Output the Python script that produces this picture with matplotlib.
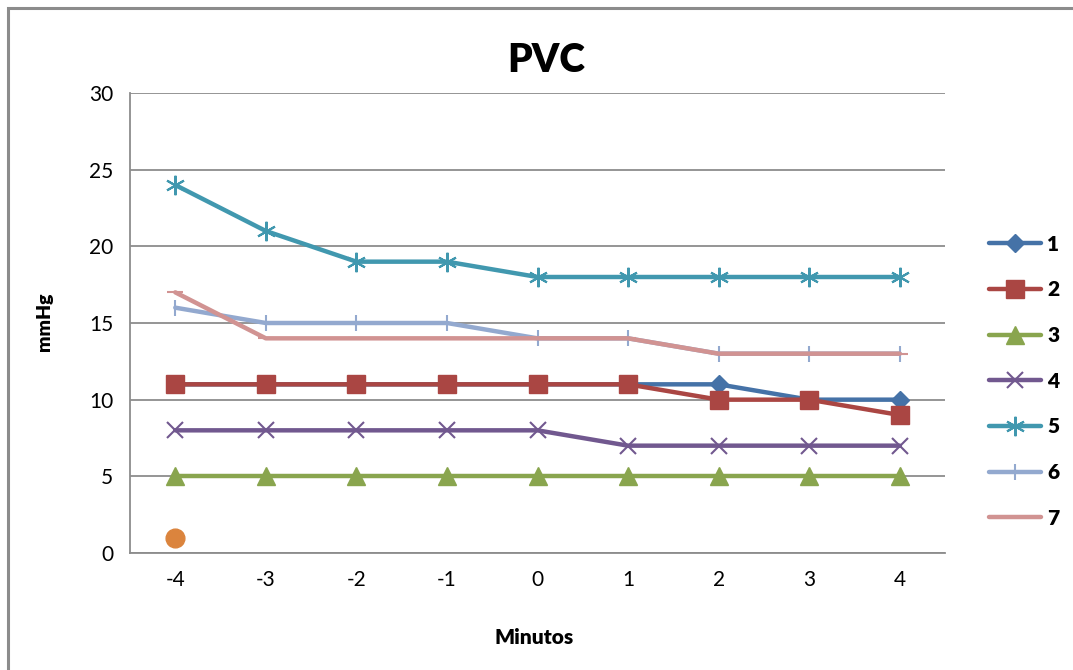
import matplotlib
matplotlib.use("Agg")
import matplotlib.pyplot as plt
from matplotlib.patches import Rectangle

minutes = [-4, -3, -2, -1, 0, 1, 2, 3, 4]
s1 = [11, 11, 11, 11, 11, 11, 11, 10, 10]
s2 = [11, 11, 11, 11, 11, 11, 10, 10, 9]
s3 = [5, 5, 5, 5, 5, 5, 5, 5, 5]
s4 = [8, 8, 8, 8, 8, 7, 7, 7, 7]
s5 = [24, 21, 19, 19, 18, 18, 18, 18, 18]
s6 = [16, 15, 15, 15, 14, 14, 13, 13, 13]
s7 = [17, 14, 14, 14, 14, 14, 13, 13, 13]
extra_x = [-4]
extra_y = [1]

series = [("1", s1, "#4572A7", "D", 9.5, 1),
          ("2", s2, "#AA4643", "s", 13, 1),
          ("3", s3, "#89A54E", "^", 13, 1),
          ("4", s4, "#71588F", "x", 11, 1.5),
          ("5", s5, "#4198AF", (6, 2, 0), 14, 1.5),
          ("6", s6, "#93A9CF", "|", 12, 1.5),
          ("7", s7, "#D19392", "_", 12, 1.5)]

plt.rcParams['font.family'] = ['Lato', 'DejaVu Sans']

fig = plt.figure(figsize=(10.73, 6.70), dpi=100)
ax = fig.add_axes([130 / 1073, 117 / 670, 815 / 1073, 460 / 670])

for name, vals, col, mk, ms, mew in series:
    ax.plot(minutes, vals, color=col, lw=3.2, marker=mk, markersize=ms,
            markeredgewidth=mew, markeredgecolor=col, markerfacecolor=col,
            label=name, solid_capstyle='round')
ax.plot(extra_x, extra_y, linestyle='none', marker='o', markersize=13.5,
        color="#DB843D")

ax.set_xlim(-4.5, 4.5)
ax.set_ylim(0, 30)
ax.set_xticks(minutes)
ax.set_xticklabels([str(m) for m in minutes])
ax.set_yticks(range(0, 31, 5))
ax.tick_params(length=0, labelsize=15, pad=12)
ax.grid(axis='y', color='#8c8c8c', lw=1.3)
ax.set_axisbelow(True)
for sp in ['top', 'right']:
    ax.spines[sp].set_visible(False)
for sp in ['left', 'bottom']:
    ax.spines[sp].set_color('#8c8c8c')
    ax.spines[sp].set_linewidth(1.3)

fig.text(546 / 1073, 1 - 60 / 670, "PVC", fontsize=28, fontweight='heavy',
         ha='center', va='center')
fig.text(45 / 1073, 1 - 322 / 670, "mmHg", fontsize=14, fontweight='heavy',
         rotation=90, ha='center', va='center')
fig.text(534 / 1073, 1 - 637 / 670, "Minutos", fontsize=15, fontweight='heavy',
         ha='center', va='center')

fig.legend(loc='upper left', bbox_to_anchor=(970 / 1073, 1 - 216 / 670),
           frameon=False, prop={'size': 15, 'weight': 'heavy'},
           handlelength=2.5, labelspacing=1.28, handletextpad=0.3)

fig.patches.append(Rectangle((8 / 1073, -0.1), 1.2, 1 - 8 / 670 + 0.1,
                             transform=fig.transFigure, fill=False,
                             edgecolor='#8c8c8c', lw=2.2))

fig.savefig("out.png", dpi=100)
